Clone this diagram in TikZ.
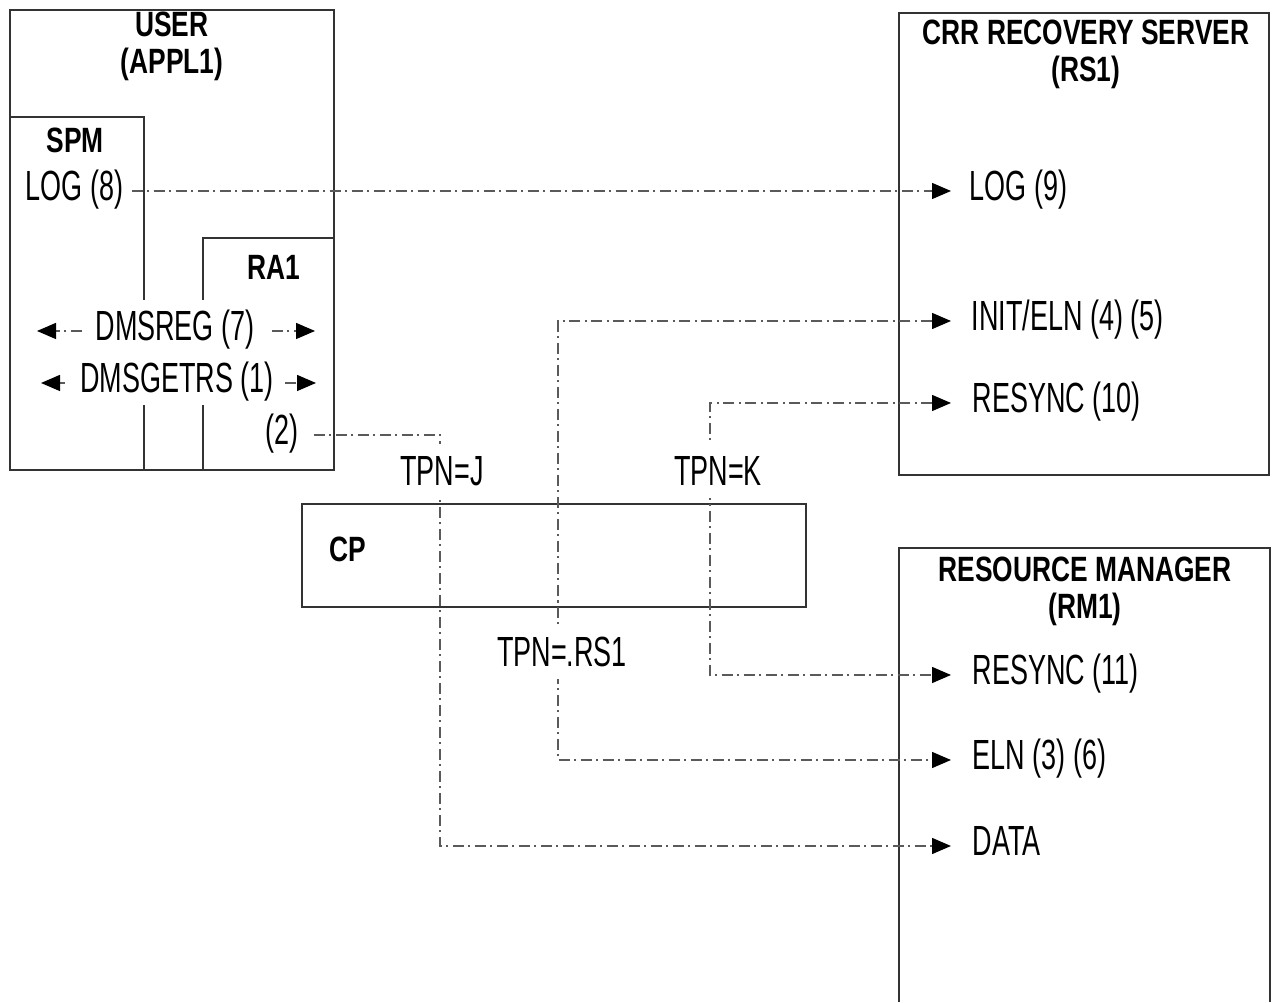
\documentclass[tikz,border=0pt]{standalone}
\usepackage{fontspec}
\newfontfamily\boxfont{Liberation Sans}[FakeStretch=0.64]
\newfontfamily\headfont{Liberation Sans}[FakeStretch=0.75]
\usepackage{xcolor}
\definecolor{LineGrey}{RGB}{51,51,51}
\definecolor{FlowGrey}{RGB}{90,90,90}
\usetikzlibrary{arrows.meta}

\begin{document}
\begin{tikzpicture}[
    frame/.style={draw=LineGrey, line width=1.1pt},
    head/.style={font=\headfont\bfseries\fontsize{20}{21}\selectfont, align=center, inner sep=1pt},
    entry/.style={font=\boxfont\fontsize{24}{26}\selectfont, inner sep=2pt, text height=18pt, text depth=7pt},
    tpn/.style={entry, fill=white, inner xsep=3pt, inner ysep=7pt, text height=17pt, text depth=0pt},
    flow/.style={draw=FlowGrey, line width=0.8pt, dash pattern=on 0.22cm off 0.09cm on 0.04cm off 0.09cm},
    >={Triangle[length=0.38cm, width=0.32cm, color=black]}
  ]
    \useasboundingbox (0,0) rectangle (25.44,20.04);

    % Boxes
    \draw[frame] (0.2,10.64) rectangle (6.68,19.84);
    \draw[frame] (17.98,10.54) rectangle (25.38,19.78);
    \draw[frame] (17.98,0) -- (17.98,9.08) -- (25.4,9.08) -- (25.4,0);
    \draw[frame] (6.04,7.9) rectangle (16.12,9.96);

    % SPM and RA1 partitions
    \draw[frame] (0.2,17.7) -- (2.88,17.7) -- (2.88,14.04);
    \draw[frame] (2.88,11.94) -- (2.88,10.64);
    \draw[frame] (6.68,15.28) -- (4.06,15.28) -- (4.06,14.04);
    \draw[frame] (4.06,11.94) -- (4.06,10.64);

    % Titles
    \node[head] (user) at (3.44,19.12) {USER\\(APPL1)};
    \node[head] (crr) at (21.72,18.96) {CRR RECOVERY SERVER\\(RS1)};
    \node[head] (rm) at (21.7,8.22) {RESOURCE MANAGER\\(RM1)};
    \node[head] (spm) at (1.5,17.24) {SPM};
    \node[head] (ra) at (5.48,14.7) {RA1};
    \node[head] (cp) at (6.96,9.06) {CP};

    % Entries
    \node[entry] (log8) at (1.49,16.22) {LOG (8)};
    \node[entry] (dmsreg) at (3.5,13.42) {DMSREG (7)};
    \node[entry] (dmsget) at (3.54,12.38) {DMSGETRS (1)};
    \node[entry] (two) at (5.64,11.34) {(2)};
    \node[entry, anchor=west] (log9) at (19.32,16.22) {LOG (9)};
    \node[entry, anchor=west] (initeln) at (19.36,13.62) {INIT/ELN (4) (5)};
    \node[entry, anchor=west] (resync10) at (19.38,11.98) {RESYNC (10)};
    \node[entry, anchor=west] (resync11) at (19.38,6.54) {RESYNC (11)};
    \node[entry, anchor=west] (eln) at (19.38,4.84) {ELN (3) (6)};
    \node[entry, anchor=west] (data) at (19.38,3.12) {DATA};

    % Free ends and bends
    \coordinate (regL) at (0.74,13.42);
    \coordinate (regR) at (6.3,13.42);
    \coordinate (getL) at (0.82,12.38);
    \coordinate (getR) at (6.32,12.38);
    \coordinate (busJ) at (8.8,8);
    \coordinate (busELN) at (11.16,8);
    \coordinate (busK) at (14.2,8);

    % Calls inside the user
    \draw[flow, ->, shorten <=0.2cm] (dmsreg.west) -- (regL);
    \draw[flow, ->, shorten <=0.27cm] (dmsreg.east) -- (regR);
    \draw[flow, ->, shorten <=0.23cm] (dmsget.west) -- (getL);
    \draw[flow, ->, shorten <=0.15cm] (dmsget.east) -- (getR);

    % Flows between the partners
    \draw[flow, ->, shorten <=0.09cm, shorten >=0.3cm] (log8.east) -- (log9.west);
    \draw[flow, <->, shorten <=0.34cm, shorten >=0.36cm] (initeln.west) -| (busELN) |- (eln.west);
    \draw[flow, <->, shorten <=0.36cm, shorten >=0.36cm] (resync10.west) -| (busK) |- (resync11.west);
    \draw[flow, ->, shorten <=0.23cm, shorten >=0.36cm] (two.east) -| (busJ) |- (data.west);

    % TPN names
    \node[tpn] (tpnj) at (8.84,10.62) {TPN=J};
    \node[tpn] (tpnk) at (14.36,10.62) {TPN=K};
    \node[tpn] (tpnrs) at (11.24,7.0) {TPN=.RS1};
\end{tikzpicture}
\end{document}
